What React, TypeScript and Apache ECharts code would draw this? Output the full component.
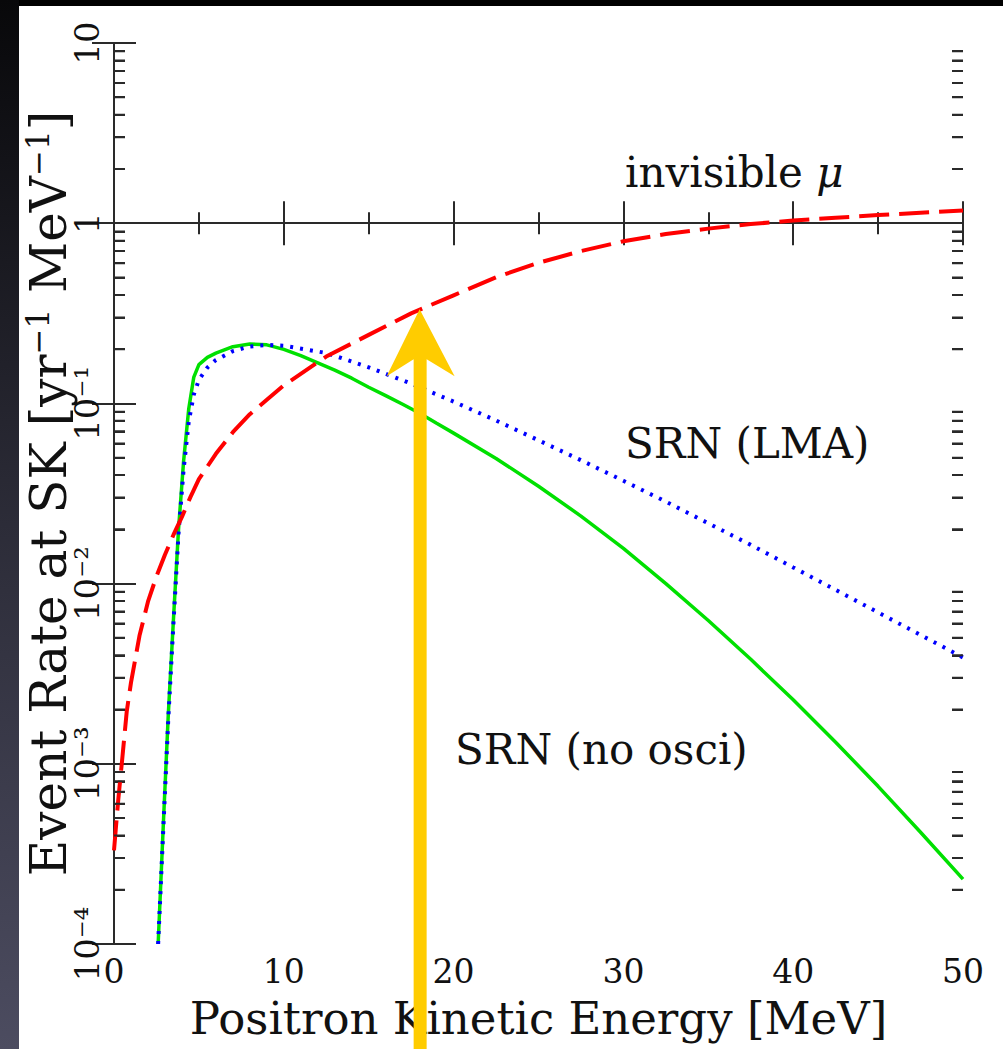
import React, { useEffect, useRef } from "react";
import * as echarts from "echarts";

// ---- data ----
const ENERGY_MU = [0, 0.25, 0.5, 0.75, 1.0, 1.25, 1.5, 2, 2.5, 3, 3.5, 4, 4.5, 5, 6, 7, 8, 9, 10, 12.5, 15, 17.5, 20, 22.5, 25, 27.5, 30, 32.5, 35, 37.5, 40, 42.5, 45, 47.5, 50];
const RATE_MU = [3.31e-4, 6.31e-4, 1.10e-3, 1.95e-3, 2.82e-3, 3.80e-3, 5.13e-3, 7.94e-3, 0.01096, 0.01445, 0.01862, 0.02344, 0.0302, 0.038, 0.0525, 0.0692, 0.0871, 0.1047, 0.1259, 0.182, 0.24, 0.316, 0.398, 0.501, 0.603, 0.7, 0.794, 0.871, 0.933, 0.989, 1.035, 1.072, 1.109, 1.143, 1.175];

const ENERGY_NO_OSCI = [2.6, 2.9, 3.2, 3.5, 3.8, 4.1, 4.4, 4.7, 5.0, 5.5, 6, 7, 8, 9, 10, 11, 12, 13, 14, 15, 16, 17, 18, 19, 20, 22.5, 25, 27.5, 30, 32.5, 35, 37.5, 40, 42.5, 45, 47.5, 50];
const RATE_NO_OSCI = [1.0e-4, 4.5e-4, 1.9e-3, 6.3e-3, 0.02, 0.048, 0.093, 0.14, 0.164, 0.18, 0.19, 0.2065, 0.2138, 0.2113, 0.1995, 0.184, 0.168, 0.153, 0.138, 0.123, 0.1104, 0.0989, 0.0881, 0.0776, 0.0684, 0.0495, 0.0347, 0.0237, 0.01567, 0.01, 0.00624, 0.0038, 0.002265, 0.001318, 7.5e-4, 4.17e-4, 2.29e-4];

const ENERGY_LMA = [2.6, 2.9, 3.2, 3.5, 3.8, 4.1, 4.4, 4.7, 5.0, 5.5, 6, 7, 8, 9, 10, 12.5, 15, 17.5, 20, 22.5, 25, 27.5, 30, 32.5, 35, 37.5, 40, 42.5, 45, 47.5, 50];
const RATE_LMA = [1.0e-4, 4.3e-4, 1.8e-3, 6.0e-3, 0.019, 0.043, 0.079, 0.112, 0.135, 0.158, 0.174, 0.195, 0.207, 0.211, 0.209, 0.1905, 0.1585, 0.1288, 0.1023, 0.0804, 0.0624, 0.0484, 0.0372, 0.0285, 0.0216, 0.0164, 0.0123, 0.00923, 0.00692, 0.00519, 0.00389];

const X_TICKS = [0, 10, 20, 30, 40, 50];
const Y_DECADES = [1e-4, 1e-3, 1e-2, 1e-1, 1, 10];
const Y_TICK_LABELS = ["10⁻⁴", "10⁻³", "10⁻²", "10⁻¹", "1", "10"];
const MINOR_MULTS = [2, 3, 4, 5, 6, 7, 8, 9];

const ARROW_ENERGY = 18.0;
const ARROW_TIP_RATE = 0.333;

const LABELS = [
  { text: "invisible {m|μ}", x: 625, y: 172 },
  { text: "SRN (LMA)", x: 625, y: 443 },
  { text: "SRN (no osci)", x: 455, y: 749 },
];

const FONT = "DejaVu Serif";
const INK = "#2a2a2a";

export default function App() {
  const ref = useRef<HTMLDivElement>(null);

  useEffect(() => {
    if (!ref.current) return;
    const chart = echarts.init(ref.current, undefined, { renderer: "svg" });

    const zip = (xs: number[], ys: number[]) => xs.map((x, i) => [x, ys[i]]);

    const yLabel = (v: number) => {
      const e = Math.round(Math.log10(v));
      const idx = Y_DECADES.findIndex((d) => Math.round(Math.log10(d)) === e);
      return idx >= 0 ? Y_TICK_LABELS[idx] : "";
    };

    const axisLine = { show: true, lineStyle: { color: INK, width: 2 } };
    const majorTick = { show: true, inside: true, length: 22, lineStyle: { color: INK, width: 2 } };
    const minorTickX = { show: true, splitNumber: 2, length: 11, lineStyle: { color: INK, width: 2 } };

    const xMin = X_TICKS[0];
    const xMax = X_TICKS[X_TICKS.length - 1];
    const yMin = Y_DECADES[0];
    const yMax = Y_DECADES[Y_DECADES.length - 1];

    // minor tick positions (2..9 x 10^n) expressed as exponents
    const minorExps: number[] = [];
    Y_DECADES.slice(0, -1).forEach((dec) => MINOR_MULTS.forEach((m) => minorExps.push(Math.log10(dec * m))));

    const tickOnlyLogAxis = (position: string) => ({
      type: "log",
      logBase: 10,
      position,
      min: yMin,
      max: yMax,
      splitNumber: 5,
      axisLine,
      axisTick: majorTick,
      minorTick: { show: false },
      splitLine: { show: false },
      axisLabel: { show: false },
    });

    // linear axis in exponent space, used only to draw the minor log ticks
    const minorTickAxis = (position: string) => ({
      type: "value",
      position,
      offset: 0,
      min: Math.log10(yMin),
      max: Math.log10(yMax),
      axisLine: { show: false },
      axisTick: {
        show: true,
        inside: true,
        length: 11,
        customValues: minorExps,
        lineStyle: { color: INK, width: 2 },
      },
      axisLabel: { show: false },
      splitLine: { show: false },
      minorTick: { show: false },
    });

    chart.setOption({
      animation: false,
      backgroundColor: "#000",
      grid: { left: 114, top: 43, right: 40, bottom: 105, containLabel: false },
      xAxis: [
        {
          type: "value",
          position: "bottom",
          min: xMin,
          max: xMax,
          interval: 10,
          axisLine,
          axisTick: majorTick,
          minorTick: minorTickX,
          splitLine: { show: false },
          axisLabel: {
            color: "#111",
            fontFamily: FONT,
            fontSize: 33,
            lineHeight: 26,
            margin: 14,
            formatter: (v: number) => (X_TICKS.includes(v) ? String(v) : ""),
          },
          name: "Positron Kinetic Energy [MeV]",
          nameLocation: "middle",
          nameGap: 56,
          nameMoveOverlap: false,
          nameTextStyle: { color: "#111", fontFamily: FONT, fontSize: 45, lineHeight: 36 },
        },
        {
          type: "value",
          position: "top",
          min: xMin,
          max: xMax,
          interval: 10,
          axisLine,
          axisTick: majorTick,
          minorTick: minorTickX,
          splitLine: { show: false },
          axisLabel: { show: false },
        },
      ],
      yAxis: [
        tickOnlyLogAxis("left"),
        tickOnlyLogAxis("right"),
        {
          type: "log",
          logBase: 10,
          position: "left",
          offset: 0,
          min: yMin,
          max: yMax,
          splitNumber: 5,
          axisLine: { show: false },
          axisTick: { show: false },
          minorTick: { show: false },
          splitLine: { show: false },
          axisLabel: {
            color: "#111",
            fontFamily: FONT,
            fontSize: 34,
            rotate: 90,
            margin: 10,
            formatter: yLabel,
          },
          name: "Event Rate at SK [yr{s|−1} MeV{s|−1}]",
          nameLocation: "middle",
          nameGap: 38,
          nameMoveOverlap: false,
          nameTextStyle: {
            color: "#111",
            fontFamily: FONT,
            fontSize: 50,
            lineHeight: 54,
            rich: {
              s: { fontFamily: FONT, fontSize: 31, color: "#111", verticalAlign: "top", lineHeight: 54 },
            },
          },
        },
        minorTickAxis("left"),
        minorTickAxis("right"),
      ],
      series: [
        {
          name: "SRN (no osci)",
          type: "line",
          yAxisIndex: 0,
          data: zip(ENERGY_NO_OSCI, RATE_NO_OSCI),
          showSymbol: false,
          smooth: false,
          lineStyle: { color: "#00e000", width: 3.5 },
          z: 3,
        },
        {
          name: "SRN (LMA)",
          type: "line",
          yAxisIndex: 0,
          data: zip(ENERGY_LMA, RATE_LMA),
          showSymbol: false,
          smooth: false,
          lineStyle: { color: "#0000ff", width: 4, type: [3, 7] },
          z: 4,
        },
        {
          name: "invisible mu",
          type: "line",
          yAxisIndex: 0,
          data: zip(ENERGY_MU, RATE_MU),
          showSymbol: false,
          smooth: false,
          lineStyle: { color: "#ff0000", width: 4, type: [30, 10] },
          z: 5,
        },
      ],
    });

    // fallback: minor ticks as one registered path, positioned through the axis scale
    let xL = chart.convertToPixel({ xAxisIndex: 0 }, xMin) as number;
    let xR = chart.convertToPixel({ xAxisIndex: 0 }, xMax) as number;
    if (!isFinite(xL)) xL = 114;
    if (!isFinite(xR)) xR = 963;
    let d = "";
    Y_DECADES.slice(0, -1).forEach((dec) =>
      MINOR_MULTS.forEach((m) => {
        const p = chart.convertToPixel({ gridIndex: 0 }, [ARROW_ENERGY, dec * m]) as number[];
        const y = p[1];
        if (!isFinite(y)) return;
        d += `M${xL} ${y}L${xL + 11} ${y}M${xR - 11} ${y}L${xR} ${y}`;
      })
    );
    if (d) echarts.graphic.registerShape("yMinorTicks", echarts.graphic.extendPath(d, {}) as any);

    const tip = chart.convertToPixel({ gridIndex: 0 }, [ARROW_ENERGY, ARROW_TIP_RATE]) as number[];
    const tx = tip[0];
    const ty = tip[1];
    const H = 1049;

    const elements: any[] = [
      { type: "rect", z: -100, silent: true, shape: { x: 19, y: 6, width: 984, height: H - 6 }, style: { fill: "#ffffff" } },
      {
        type: "rect",
        z: -100,
        silent: true,
        shape: { x: 0, y: 0, width: 19, height: H },
        style: {
          fill: new echarts.graphic.LinearGradient(0, 0, 0, 1, [
            { offset: 0, color: "#08080a" },
            { offset: 0.5, color: "#2c2c38" },
            { offset: 1, color: "#4c4c60" },
          ]),
        },
      },
    ];
    if (d) {
      elements.push({
        type: "yMinorTicks",
        z: 1000,
        silent: true,
        x: 0,
        y: 0,
        style: { stroke: INK, lineWidth: 2, fill: "none" },
      });
    }
    LABELS.forEach((l) =>
      elements.push({
        type: "text",
        z: 50,
        silent: true,
        x: l.x,
        y: l.y,
        style: {
          text: l.text,
          fill: "#111",
          fontFamily: FONT,
          fontSize: 42,
          verticalAlign: "middle",
          rich: { m: { fontStyle: "italic", fontFamily: FONT, fontSize: 42, fill: "#111" } },
        },
      })
    );
    elements.push({
      type: "polygon",
      z: 100,
      silent: true,
      shape: {
        points: [
          [tx, ty],
          [tx + 35, ty + 67],
          [tx + 7, ty + 50],
          [tx + 7, H],
          [tx - 6, H],
          [tx - 6, ty + 50],
          [tx - 33, ty + 67],
        ],
      },
      style: { fill: "#ffcc00" },
    });

    chart.setOption({ graphic: { elements } });

    return () => chart.dispose();
  }, []);

  return (
    <div
      ref={ref}
      style={{ position: "absolute", left: 0, top: 0, width: 1003, height: 1049 }}
    />
  );
}
